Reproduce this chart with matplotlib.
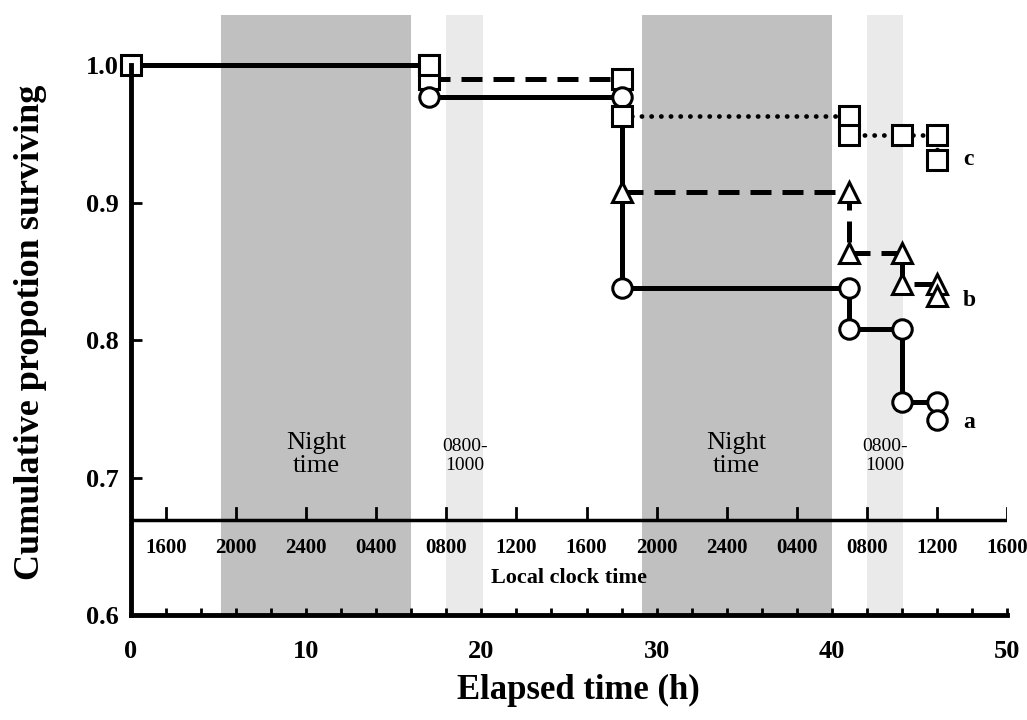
import matplotlib
matplotlib.use("Agg")
import matplotlib.pyplot as plt

plt.rcParams['font.family'] = ['Liberation Serif', 'DejaVu Serif']

# ---- data ----
# common start (all groups), squares, solid
common_t = [0, 17]
common_s = [1.0, 1.0]
# early dashed segment (squares)
early_t = [17, 28]
early_s = [0.990, 0.990]
# group a: circles, solid
a_t = [17, 28, 28, 41, 41, 44, 44, 46, 46]
a_s = [0.977, 0.977, 0.838, 0.838, 0.808, 0.808, 0.755, 0.755, 0.742]
# group b: triangles, dashed
b_t = [28, 41, 41, 44, 44, 46, 46]
b_s = [0.908, 0.908, 0.863, 0.863, 0.841, 0.841, 0.832]
# group c: squares, dotted
c_t = [28, 41, 41, 44, 46, 46]
c_s = [0.963, 0.963, 0.949, 0.949, 0.949, 0.931]

night_bands = [(5.15, 16.0), (29.15, 40.0)]
morning_bands = [(18.0, 20.1), (42.0, 44.05)]
clock_ticks = [2, 6, 10, 14, 18, 22, 26, 30, 34, 38, 42, 46, 50]
clock_labels = ['1600', '2000', '2400', '0400', '0800', '1200', '1600',
                '2000', '2400', '0400', '0800', '1200', '1600']
group_labels = ['a', 'b', 'c']
group_label_y = [0.740, 0.829, 0.931]
clock_axis_y = 0.669

fig = plt.figure(figsize=(10.27, 7.2), dpi=100)
ax = fig.add_axes([0.1276, 0.1458, 0.8529, 0.8333])
ax.set_xlim(0, 50)
ax.set_ylim(0.6, 1.0364)

for x0, x1 in night_bands:
    ax.axvspan(x0, x1, color='#C0C0C0', zorder=0, lw=0)
for x0, x1 in morning_bands:
    ax.axvspan(x0, x1, color='#EAEAEA', zorder=0, lw=0)

# band texts
for x0, x1 in night_bands:
    ax.text((x0 + x1) / 2, 0.717, 'Night\ntime', ha='center', va='center',
            fontsize=19, linespacing=1.05, zorder=2)
for x0, x1 in morning_bands:
    ax.text((x0 + x1) / 2, 0.716, '0800-\n1000', ha='center', va='center',
            fontsize=14, linespacing=1.15, zorder=2)

# clock axis
ax.plot([0, 50], [clock_axis_y, clock_axis_y], color='black', lw=2.5, zorder=3,
        solid_capstyle='butt')
for t, lab in zip(clock_ticks, clock_labels):
    ax.plot([t, t], [clock_axis_y, clock_axis_y + 0.009], color='black', lw=2, zorder=3)
    ax.text(t, 0.6487, lab, ha='center', va='center', fontsize=15, fontweight='bold',
            zorder=3)
ax.text(25, 0.6269, 'Local clock time', ha='center', va='center', fontsize=16,
        fontweight='bold', zorder=3)

mk = dict(markerfacecolor='white', markeredgecolor='black', markeredgewidth=2.2,
          markersize=14, zorder=5, clip_on=False)
lw = 3.6
ax.plot(common_t, common_s, color='black', lw=lw, marker='s', **mk)
ax.plot(early_t, early_s, color='black', lw=lw, ls=(0, (4.2, 2.2)), marker='s', **mk)
ax.plot(a_t, a_s, color='black', lw=lw, marker='o', **mk)
ax.plot(b_t, b_s, color='black', lw=lw, ls=(0, (4.2, 2.2)), marker='^', **mk)
ax.plot(c_t, c_s, color='black', lw=3.4, ls=(0, (0.05, 2.0)), dash_capstyle='round',
        marker='s', **mk)
ax.plot([17], [1.0], marker='s', ls='none', **mk)

for lab, y in zip(group_labels, group_label_y):
    ax.text(47.5, y, lab, ha='left', va='center', fontsize=17, fontweight='bold')

for s in ['top', 'right']:
    ax.spines[s].set_visible(False)
for s in ['left', 'bottom']:
    ax.spines[s].set_linewidth(3.5)
    ax.spines[s].set_zorder(6)
ax.spines['left'].set_bounds(0.6, 1.0)

ax.set_xticks([0, 10, 20, 30, 40, 50])
ax.set_xticks(list(range(0, 51, 2)), minor=True)
ax.set_yticks([0.6, 0.7, 0.8, 0.9, 1.0])
ax.set_yticklabels(['0.6', '0.7', '0.8', '0.9', '1.0'])
ax.tick_params(axis='x', which='major', direction='in', length=5, width=2, pad=18,
               labelsize=19)
ax.tick_params(axis='x', which='minor', direction='in', length=5, width=2)
ax.tick_params(axis='y', direction='in', length=8, width=2, pad=9, labelsize=19)
for t in ax.get_xticklabels() + ax.get_yticklabels():
    t.set_fontweight('bold')

fig.text(578 / 1027, 1 - 690 / 720, 'Elapsed time (h)', fontsize=25, fontweight='bold',
         ha='center', va='center')
fig.text(31 / 1027, 1 - 332 / 720, 'Cumulative propotion surviving', fontsize=26,
         fontweight='bold', ha='center', va='center', rotation=90)

fig.savefig('out.png', dpi=100)
